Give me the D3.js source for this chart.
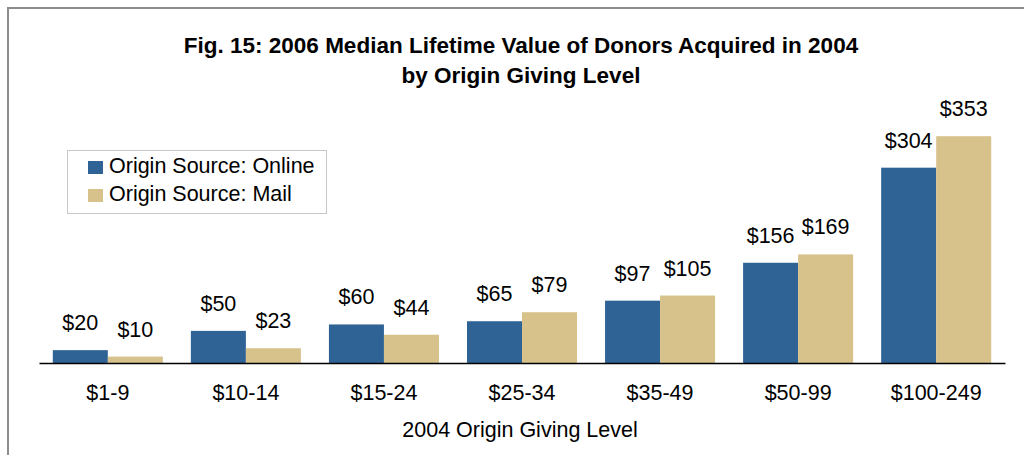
<!DOCTYPE html>
<html>
<head>
<meta charset="utf-8">
<script src="https://cdn.jsdelivr.net/npm/d3@7"></script>
<style>
  html, body { margin: 0; padding: 0; background: #fff; }
  svg text { font-family: "Liberation Sans", Arial, sans-serif; fill: #000; }
  .title { font-size: 22.5px; font-weight: bold; }
  .label { font-size: 21.5px; }
  .tick text { font-size: 21.5px; }
</style>
</head>
<body>
<div id="chart"></div>
<script>
const WIDTH = 1024, HEIGHT = 455;

const categories = ["$1-9", "$10-14", "$15-24", "$25-34", "$35-49", "$50-99", "$100-249"];
const online = [20, 50, 60, 65, 97, 156, 304];
const mail = [10, 23, 44, 79, 105, 169, 353];
const seriesNames = ["Origin Source: Online", "Origin Source: Mail"];
const colors = ["#2f6396", "#d7c28b"];

const svg = d3.select("#chart").append("svg")
  .attr("width", WIDTH).attr("height", HEIGHT);

// outer frame (right/bottom edges fall outside the picture)
svg.append("rect")
  .attr("x", 8).attr("y", 8)
  .attr("width", WIDTH + 20).attr("height", HEIGHT + 20)
  .attr("fill", "none").attr("stroke", "#8c8c8c").attr("stroke-width", 2);

const x = d3.scaleBand()
  .domain(categories)
  .range([39, 1005]).paddingInner(0.203).paddingOuter(0.1);

const x1 = d3.scaleBand()
  .domain([0, 1])
  .range([0, x.bandwidth()]);

const y = d3.scaleLinear()
  .domain([0, 400])
  .range([363, 106]);

const rows = categories.map((c, i) => ({ cat: c, vals: [online[i], mail[i]] }));

const groups = svg.selectAll(".grp").data(rows).join("g")
  .attr("class", "grp")
  .attr("transform", d => `translate(${x(d.cat)},0)`);

groups.selectAll("rect").data(d => d.vals).join("rect")
  .attr("x", (d, i) => x1(i))
  .attr("y", d => y(d))
  .attr("width", x1.bandwidth())
  .attr("height", d => y(0) - y(d))
  .attr("fill", (d, i) => colors[i]);

groups.selectAll("text").data(d => d.vals).join("text")
  .attr("class", "label")
  .attr("x", (d, i) => x1(i) + x1.bandwidth() / 2)
  .attr("y", d => y(d) - 20)
  .attr("text-anchor", "middle")
  .text(d => "$" + d);

// x axis
const xAxis = svg.append("g")
  .attr("transform", `translate(0,${y(0)})`)
  .call(d3.axisBottom(x).tickSize(0).tickPadding(22));
xAxis.select(".domain").attr("stroke", "#000").attr("stroke-width", 1.5);
xAxis.selectAll(".tick text").attr("fill", "#000").attr("font-family", null);

svg.append("text").attr("class", "label")
  .attr("x", 520).attr("y", 437)
  .attr("text-anchor", "middle")
  .text("2004 Origin Giving Level");

// title
svg.append("text").attr("class", "title")
  .attr("x", 521).attr("y", 53)
  .attr("text-anchor", "middle")
  .text("Fig. 15: 2006 Median Lifetime Value of Donors Acquired in 2004");
svg.append("text").attr("class", "title")
  .attr("x", 521).attr("y", 83)
  .attr("text-anchor", "middle")
  .text("by Origin Giving Level");

// legend
const legend = svg.append("g");
legend.append("rect")
  .attr("x", 67.5).attr("y", 150.5).attr("width", 259).attr("height", 63)
  .attr("fill", "#fff").attr("stroke", "#c8c8c8");
const items = legend.selectAll(".item").data(seriesNames).join("g")
  .attr("transform", (d, i) => `translate(88,${161 + i * 28})`);
items.append("rect")
  .attr("width", 15).attr("height", 13)
  .attr("fill", (d, i) => colors[i]);
items.append("text").attr("class", "label")
  .attr("x", 21).attr("y", 12)
  .text(d => d);
</script>
</body>
</html>
